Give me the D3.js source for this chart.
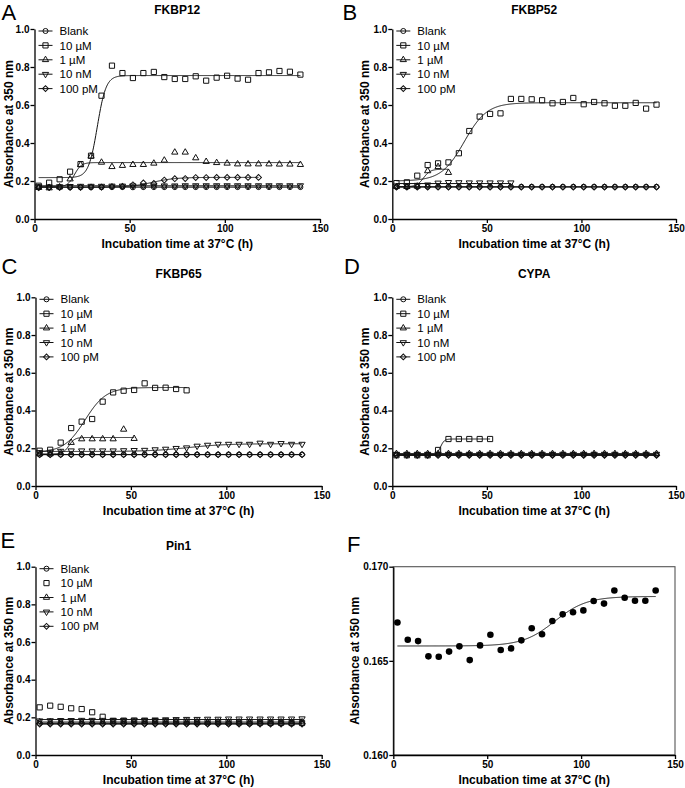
<!DOCTYPE html>
<html><head><meta charset="utf-8">
<script src="https://cdn.jsdelivr.net/npm/d3@7"></script>
<style>
html,body{margin:0;padding:0;background:#fff;}
svg{display:block;font-family:Arial,"Liberation Sans",sans-serif;}
</style></head>
<body><svg id="chart" width="685" height="788"></svg>
<script>
// ---------------- DATA ----------------
const times = [2.2,7.7,13.2,18.7,24.2,29.7,35.2,40.7,46.2,51.7,57.2,62.7,68.2,73.7,79.2,84.7,90.2,95.7,101.2,106.7,112.2,117.7,123.2,128.7,134.2,139.7];
const legendLabels = ["Blank","10 µM","1 µM","10 nM","100 pM"];
const xTicks = [0,50,100,150];
const yTicks = [0,0.2,0.4,0.6,0.8,1.0];
const yTicksF = [0.160,0.165,0.170];
const titles = ["FKBP12","FKBP52","FKBP65","CYPA","Pin1"];
const letters = ["A","B","C","D","E","F"];

// Panel A — FKBP12
const A_blank = [0.166,0.166,0.167,0.167,0.167,0.167,0.167,0.168,0.168,0.167,0.168,0.168,0.168,0.168,0.168,0.168,0.168,0.168,0.168,0.168,0.168,0.168,0.168,0.168,0.168,0.168];
const A_10uM  = [0.175,0.191,0.209,0.249,0.289,0.333,0.649,0.807,0.768,0.742,0.768,0.774,0.747,0.737,0.737,0.751,0.728,0.744,0.754,0.739,0.733,0.768,0.772,0.779,0.775,0.760];
const A_1uM   = [0.165,0.163,0.168,0.210,0.285,0.330,0.298,0.275,0.281,0.286,0.286,0.293,0.309,0.351,0.351,0.321,0.302,0.296,0.293,0.289,0.289,0.289,0.289,0.288,0.288,0.286];
const A_10nM  = [0.171,0.170,0.171,0.172,0.173,0.173,0.173,0.174,0.174,0.175,0.175,0.175,0.175,0.175,0.176,0.176,0.176,0.176,0.176,0.176,0.176,0.176,0.176,0.176,0.176,0.176];
const A_100pM = [0.165,0.166,0.166,0.167,0.167,0.168,0.168,0.170,0.172,0.180,0.190,0.187,0.205,0.212,0.213,0.218,0.218,0.219,0.219,0.219,0.219,0.219];
const A_fit10uM  = [0.218,0.755,33,2.3];
const A_fit1uM   = [0.170,0.297,21,1.8];
const A_fit100pM = [0.167,0.219,62,6];

// Panel B — FKBP52
const B_blank = [0.169,0.169,0.170,0.170,0.170,0.170,0.170,0.170,0.170,0.170,0.170,0.170,0.170,0.170,0.170,0.170,0.170,0.170,0.170,0.170,0.170,0.170,0.170,0.170,0.170,0.170];
const B_10uM  = [0.189,0.193,0.228,0.284,0.293,0.298,0.346,0.463,0.539,0.553,0.556,0.632,0.632,0.630,0.625,0.609,0.616,0.637,0.604,0.616,0.609,0.596,0.596,0.611,0.581,0.602];
const B_1uM   = [0.170,0.170,0.172,0.253,0.275,0.244];
const B_10nM  = [0.175,0.176,0.178,0.180,0.190,0.193,0.192,0.191,0.191,0.191,0.191,0.191];
const B_100pM = [0.168,0.168,0.168,0.168,0.168,0.168,0.168,0.168,0.168,0.168,0.168,0.168,0.168,0.168,0.168,0.168,0.168,0.168,0.168,0.168,0.168,0.168,0.168,0.168,0.168,0.168];
const B_fit10uM = [0.200,0.612,38,6];
const B_fit1uM  = [0.170,0.262,16.5,1.8];

// Panel C — FKBP65
const C_blank = [0.167,0.167,0.167,0.167,0.167,0.167,0.167,0.167,0.167,0.167,0.167,0.167,0.167,0.167,0.167,0.167,0.167,0.167,0.167,0.167,0.167,0.167,0.167,0.167,0.167,0.167];
const C_10uM  = [0.187,0.192,0.230,0.307,0.341,0.355,0.447,0.496,0.505,0.509,0.544,0.520,0.521,0.514,0.507];
const C_1uM   = [0.170,0.170,0.175,0.230,0.249,0.249,0.249,0.249,0.300,0.251];
const C_10nM  = [0.178,0.180,0.185,0.187,0.187,0.187,0.187,0.187,0.188,0.189,0.190,0.193,0.196,0.200,0.203,0.212,0.217,0.222,0.222,0.222,0.222,0.228,0.222,0.226,0.222,0.222];
const C_100pM = [0.166,0.166,0.166,0.166,0.166,0.166,0.166,0.166,0.166,0.166,0.166,0.166,0.166,0.166,0.166,0.166,0.166,0.166,0.166,0.166,0.166,0.166,0.166,0.166,0.166,0.166];
const C_fit10uM = [0.178,0.522,26,5.5];
const C_fit1uM  = [0.170,0.257,17.5,1.5];
const C_fit10nM = [0.183,0.224,80,10];

// Panel D — CYPA
const D_blank = [0.166,0.166,0.166,0.166,0.166,0.166,0.166,0.166,0.166,0.166,0.166,0.166,0.166,0.166,0.166,0.166,0.166,0.166,0.166,0.166,0.166,0.166,0.166,0.166,0.166,0.166];
const D_10uM  = [0.163,0.163,0.163,0.163,0.191,0.249,0.249,0.249,0.249,0.249];
const D_1uM   = [0.171,0.171,0.171,0.171,0.171,0.171,0.171,0.171,0.171,0.171,0.171,0.171,0.171,0.171,0.171,0.171,0.171,0.171,0.171,0.171,0.171,0.171,0.171,0.171,0.171,0.171];
const D_10nM  = [0.169,0.169,0.169,0.169,0.169,0.169,0.169,0.169,0.169,0.169,0.169,0.169,0.169,0.169,0.169,0.169,0.169,0.169,0.169,0.169,0.169,0.169,0.169,0.169,0.169,0.169];
const D_100pM = [0.162,0.162,0.162,0.162,0.162,0.162,0.162,0.162,0.162,0.162,0.162,0.162,0.162,0.162,0.162,0.162,0.162,0.162,0.162,0.162,0.162,0.162,0.162,0.162,0.162,0.162];
const D_fit10uM = [0.165,0.249,25.5,1.0];

// Panel E — Pin1
const E_blank = [0.168,0.168,0.168,0.168,0.168,0.168,0.168,0.168,0.168,0.168,0.168,0.168,0.168,0.168,0.168,0.168,0.168,0.168,0.168,0.168,0.168,0.168,0.168,0.168,0.168,0.168];
const E_10uM  = [0.253,0.262,0.256,0.248,0.244,0.227,0.203,0.181,0.182,0.182,0.181,0.180,0.179,0.178,0.177,0.176,0.175,0.175,0.174,0.174,0.173,0.172,0.171,0.171,0.170,0.170];
const E_1uM   = [0.175,0.175,0.175,0.175,0.175,0.175,0.175,0.175,0.175,0.175,0.175,0.175,0.175,0.175,0.175,0.175,0.175,0.175,0.175,0.175,0.175,0.175,0.175,0.175,0.175,0.175];
const E_10nM  = [0.182,0.183,0.184,0.184,0.185,0.185,0.185,0.185,0.185,0.186,0.186,0.187,0.188,0.189,0.190,0.190,0.191,0.191,0.192,0.192,0.192,0.192,0.192,0.192,0.192,0.193];
const E_100pM = [0.164,0.164,0.164,0.164,0.164,0.164,0.164,0.164,0.164,0.164,0.164,0.164,0.164,0.164,0.164,0.164,0.164,0.164,0.164,0.164,0.164,0.164,0.164,0.164,0.164,0.164];

// Panel F — FKBP12 100 pM detail
const F_values = [0.16704,0.16612,0.16605,0.16524,0.16522,0.16549,0.16577,0.16504,0.16582,0.16639,0.16558,0.16566,0.16609,0.16673,0.16641,0.16712,0.16747,0.16758,0.16768,0.16818,0.16804,0.16874,0.16835,0.16819,0.16819,0.16874];
const F_fit = [0.16579,0.16842,86,8.5];

// ---------------- LAYOUT ----------------
const symNames = ["circle","square","triangle","triangleDown","diamond"];
function mk(vals, fits, noLine){
  return vals.map((v,i)=>({label:legendLabels[i], values:v, sym:symNames[i], fit:fits[i], line:!(noLine&&noLine[i])}));
}
const panels = [
  {letter:letters[0], title:titles[0], xr:[34.5,320], yr:[219,29], titleY:13.5, letterPos:[1.5,20], ylabX:9,
   series: mk([A_blank,A_10uM,A_1uM,A_10nM,A_100pM],[null,A_fit10uM,A_fit1uM,null,A_fit100pM])},
  {letter:letters[1], title:titles[1], xr:[392.3,676], yr:[219,29], titleY:13.5, letterPos:[342.5,20], ylabX:365,
   series: mk([B_blank,B_10uM,B_1uM,B_10nM,B_100pM],[null,B_fit10uM,B_fit1uM,null,null])},
  {letter:letters[2], title:titles[2], xr:[35.5,321.7], yr:[486,297.3], titleY:278.3, letterPos:[1.5,274], ylabX:9,
   series: mk([C_blank,C_10uM,C_1uM,C_10nM,C_100pM],[null,C_fit10uM,C_fit1uM,C_fit10nM,null])},
  {letter:letters[3], title:titles[3], xr:[392.3,676], yr:[486,297.3], titleY:278.3, letterPos:[344,273.5], ylabX:365,
   series: mk([D_blank,D_10uM,D_1uM,D_10nM,D_100pM],[null,D_fit10uM,null,null,null])},
  {letter:letters[4], title:titles[4], xr:[35.5,321.7], yr:[755,566.7], titleY:550, letterPos:[0.5,548], ylabX:9,
   series: mk([E_blank,E_10uM,E_1uM,E_10nM,E_100pM],[null,null,null,null,null],[false,true,false,false,false])}
];

const svg = d3.select("#chart");
svg.append("rect").attr("width",685).attr("height",788).attr("fill","#fff");

function sig(p,x){ return p[0] + (p[1]-p[0])/(1+Math.exp((p[2]-x)/p[3])); }

function symPath(name){
  if(name==="circle") return d3.symbol().type(d3.symbolCircle).size(20)();
  if(name==="square") return d3.symbol().type(d3.symbolSquare).size(27)();
  if(name==="triangle"||name==="triangleDown") return d3.symbol().type(d3.symbolTriangle).size(17)();
  if(name==="diamond") return d3.symbol().type(d3.symbolSquare).size(17)();
}
function symRot(name){ return name==="triangleDown"?180:(name==="diamond"?45:0); }
function drawSym(g,name,x,y){
  g.append("path").attr("d",symPath(name))
   .attr("transform",`translate(${x},${y}) rotate(${symRot(name)})`)
   .attr("fill","none").attr("stroke","#111").attr("stroke-width",1);
}

function drawAxes(g, x, y, yt, fmt, xr, yr){
  const ax = g.append("g").attr("transform",`translate(0,${yr[0]})`)
    .call(d3.axisBottom(x).tickValues(xTicks).tickSize(4).tickSizeOuter(0).tickPadding(2).tickFormat(d3.format("d")));
  const ay = g.append("g").attr("transform",`translate(${xr[0]},0)`)
    .call(d3.axisLeft(y).tickValues(yt).tickSize(4).tickSizeOuter(0).tickPadding(1).tickFormat(d3.format(fmt)));
  [ax,ay].forEach(a=>{
    a.selectAll("path.domain").attr("stroke","#000").attr("stroke-width",1.3);
    a.selectAll(".tick line").attr("stroke","#000").attr("stroke-width",1.3);
    a.selectAll(".tick text").attr("fill","#000").style("font-size","10px").style("font-weight","bold")
      .style("font-family","Arial,'Liberation Sans',sans-serif");
  });
}

function axisTitles(g, xr, yr, ylabX){
  g.append("text").attr("x",(xr[0]+xr[1])/2).attr("y",yr[0]+29).attr("text-anchor","middle")
    .style("font-size","12px").style("font-weight","bold").text("Incubation time at 37°C (h)");
  g.append("text").attr("transform",`translate(${ylabX+4},${(yr[0]+yr[1])/2}) rotate(-90)`)
    .attr("text-anchor","middle").style("font-size","12px").style("font-weight","bold").text("Absorbance at 350 nm");
}

panels.forEach(p=>{
  const g = svg.append("g");
  const x = d3.scaleLinear().domain([0,150]).range(p.xr);
  const y = d3.scaleLinear().domain([0,1]).range(p.yr);
  p.series.forEach(s=>{
    if(!s.line) return;
    const n = s.values.length;
    const t0 = times[0], t1 = times[n-1];
    let pts;
    if(s.fit){
      pts = d3.range(t0, t1+0.001, 0.25).map(t=>[t, sig(s.fit,t)]);
    } else {
      const m = d3.mean(s.values);
      pts = [[t0,m],[t1,m]];
    }
    g.append("path").attr("d", d3.line().x(d=>x(d[0])).y(d=>y(d[1]))(pts))
      .attr("fill","none").attr("stroke","#111").attr("stroke-width",1);
  });
  p.series.forEach(s=>{
    s.values.forEach((v,i)=>drawSym(g, s.sym, x(times[i]), y(v)));
  });
  drawAxes(g, x, y, yTicks, ".1f", p.xr, p.yr);
  axisTitles(g, p.xr, p.yr, p.ylabX);
  g.append("text").attr("x",(p.xr[0]+p.xr[1])/2).attr("y",p.titleY).attr("text-anchor","middle")
    .style("font-size","12px").style("font-weight","bold").text(p.title);
  g.append("text").attr("x",p.letterPos[0]).attr("y",p.letterPos[1])
    .style("font-size","22px").text(p.letter);
  const lx = p.xr[0];
  p.series.forEach((s,i)=>{
    const ly = p.yr[1] + 2 + i*14.4;
    if(s.line) g.append("line").attr("x1",lx+4).attr("x2",lx+18).attr("y1",ly).attr("y2",ly)
      .attr("stroke","#111").attr("stroke-width",1);
    drawSym(g, s.sym, lx+11, ly);
    g.append("text").attr("x",lx+25).attr("y",ly).attr("dy","0.36em")
      .style("font-size","11.5px").text(s.label);
  });
});

// Panel F
(function(){
  const xr=[393.3,675], yr=[755,566.7];
  const g = svg.append("g");
  const x = d3.scaleLinear().domain([0,150]).range(xr);
  const y = d3.scaleLinear().domain([0.160,0.170]).range(yr);
  g.append("rect").attr("x",xr[0]).attr("y",yr[1]).attr("width",xr[1]-xr[0]).attr("height",yr[0]-yr[1])
    .attr("fill","none").attr("stroke","#555").attr("stroke-width",1.1);
  const pts = d3.range(times[0], times[times.length-1]+0.001, 0.25).map(t=>[t, sig(F_fit,t)]);
  g.append("path").attr("d", d3.line().x(d=>x(d[0])).y(d=>y(d[1]))(pts))
    .attr("fill","none").attr("stroke","#111").attr("stroke-width",1);
  g.selectAll("circle.pt").data(F_values).enter().append("circle")
    .attr("cx",(d,i)=>x(times[i])).attr("cy",d=>y(d)).attr("r",3.3).attr("fill","#000");
  drawAxes(g, x, y, yTicksF, ".3f", xr, yr);
  axisTitles(g, xr, yr, 355);
  g.append("text").attr("x",347).attr("y",551.7).style("font-size","22px").text(letters[5]);
})();
</script>
</body></html>
